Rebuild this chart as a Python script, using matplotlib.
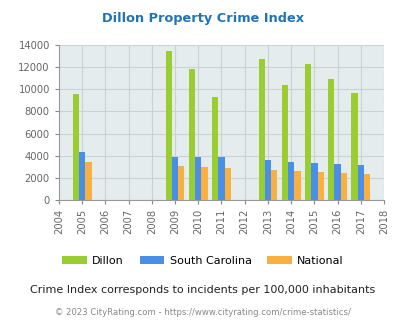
import numpy as np
import matplotlib.pyplot as plt

years = [2005, 2009, 2010, 2011, 2013, 2014, 2015, 2016, 2017]
dillon = [9610, 13460, 11840, 9310, 12740, 10390, 12290, 10930, 9670]
south_carolina = [4350, 3900, 3900, 3900, 3630, 3450, 3360, 3270, 3180]
national = [3450, 3090, 3000, 2910, 2730, 2640, 2550, 2460, 2370]
series_names = ["Dillon", "South Carolina", "National"]

colors = ["#9acd32", "#4a8fe7", "#f9b040"]

fig = plt.figure(figsize=(4.06, 3.30), dpi=100)
ax = fig.add_axes([0.145, 0.394, 0.801, 0.470])
ax.set_facecolor("#e4ecee")

x = np.array(years)
w = 0.27
for i, (vals, c, name) in enumerate(zip([dillon, south_carolina, national], colors, series_names)):
    ax.bar(x + (i - 1) * w, vals, width=w, color=c, label=name, zorder=3)

ax.set_xlim(2004, 2018)
ax.set_ylim(0, 14000)
ax.set_xticks(range(2004, 2019))
ax.set_xticklabels([str(y) for y in range(2004, 2019)], rotation=90)
ax.set_yticks(range(0, 14001, 2000))
ax.grid(True, color="#cbd2d4", linewidth=0.8, zorder=0)
ax.tick_params(colors="#888888", labelsize=7.2, length=3)
for t in ax.get_xticklabels() + ax.get_yticklabels():
    t.set_color("#666666")
for s in ["top", "right"]:
    ax.spines[s].set_visible(False)
ax.spines["left"].set_color("#999999")
ax.spines["bottom"].set_color("#999999")

fig.text(0.5, 0.945, "Dillon Property Crime Index", ha="center", va="center",
         fontsize=9.3, fontweight="bold", color="#1f74b8")

handles, labels = ax.get_legend_handles_labels()
fig.legend(handles, labels, loc="center", bbox_to_anchor=(0.5, 0.209), ncol=3,
           frameon=False, fontsize=8, handlelength=2.2, handleheight=0.8,
           columnspacing=1.4, handletextpad=0.5)

fig.text(0.5, 0.121, "Crime Index corresponds to incidents per 100,000 inhabitants",
         ha="center", va="center", fontsize=8, color="#222222")
fig.text(0.5, 0.052, "© 2023 CityRating.com - https://www.cityrating.com/crime-statistics/",
         ha="center", va="center", fontsize=6.1, color="#888888")

fig.savefig("out.png", dpi=100)
